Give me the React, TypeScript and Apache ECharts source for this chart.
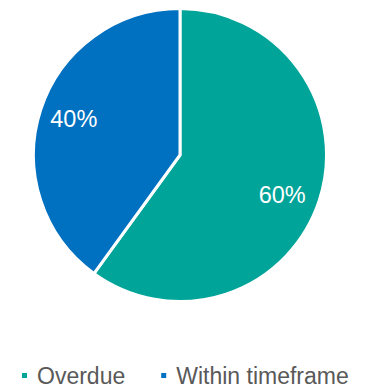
import React, { useEffect, useRef } from "react";
import * as echarts from "echarts";

const categories = ["Overdue", "Within timeframe"];
const values = [60, 40];
const colors = ["#00A499", "#0070C0"];

export default function App() {
  const ref = useRef<HTMLDivElement>(null);
  useEffect(() => {
    const chart = echarts.init(ref.current!, null, { renderer: "svg" });
    const data = categories.map((name, i) => ({ name, value: values[i], itemStyle: { color: colors[i] } }));
    const labelOffsets = [[-5, 5], [1, -1]];
    chart.setOption({
      animation: false,
      legend: {
        left: 12,
        top: 356,
        padding: 0,
        icon: "rect",
        itemWidth: 7,
        itemHeight: 7,
        itemGap: 34,
        textStyle: {
          fontFamily: "Liberation Sans",
          fontSize: 23,
          lineHeight: 20,
          color: "#595959",
          padding: [0, 0, 0, 4],
        },
        data: categories,
      },
      series: [
        {
          type: "pie",
          center: [172, 147],
          radius: [0, 146.5],
          startAngle: 90,
          data,
          itemStyle: { borderColor: "#fff", borderWidth: 3 },
          label: { show: false },
          labelLine: { show: false },
          silent: true,
        },
        {
          type: "pie",
          center: [172, 147],
          radius: [73, 146.5],
          startAngle: 90,
          data: data.map((d, i) => ({
            ...d,
            itemStyle: { color: "transparent" },
            label: { offset: labelOffsets[i] },
          })),
          itemStyle: { borderWidth: 0 },
          label: {
            show: true,
            position: "inside",
            formatter: "{c}%",
            color: "#fff",
            fontSize: 23.5,
            fontFamily: "Liberation Sans",
          },
          labelLine: { show: false },
          silent: true,
          legendHoverLink: false,
        },
      ],
    });
    return () => chart.dispose();
  }, []);
  return <div ref={ref} style={{ width: 375, height: 381 }} />;
}
